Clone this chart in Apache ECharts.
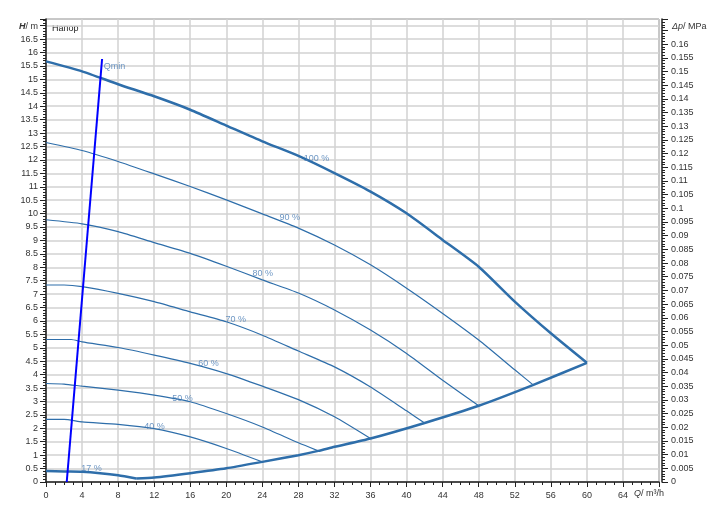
<!DOCTYPE html>
<html>
<head>
<meta charset="utf-8">
<script src="https://cdn.jsdelivr.net/npm/echarts@6/dist/echarts.min.js"></script>
<style>
html,body{margin:0;padding:0;background:#fff;}
#chart{width:723px;height:524px;}
</style>
</head>
<body>
<div id="chart"></div>
<script>
// ---- data (Q in m³/h, H in m) ----
const curve100 = [[0,15.67],[4,15.30],[8,14.82],[12,14.37],[16,13.87],[20,13.28],[24,12.69],[28,12.15],[32,11.51],[36,10.82],[40,10.01],[44,9.02],[48,8.02],[52,6.72],[56,5.54],[60,4.44]];
const curve90 = [[0,12.65],[4,12.35],[8,11.94],[12,11.48],[16,11.01],[20,10.51],[24,9.99],[28,9.46],[32,8.83],[36,8.09],[40,7.22],[44,6.28],[48,5.29],[52,4.18],[54.07,3.61]];
const curve80 = [[0,9.77],[4,9.62],[8,9.33],[12,8.92],[16,8.52],[20,8.04],[24,7.53],[28,7.04],[32,6.41],[36,5.66],[40,4.79],[44,3.79],[48,2.84]];
const curve70 = [[0,7.34],[2,7.34],[4,7.28],[8,7.03],[12,6.72],[16,6.34],[20,5.97],[24,5.47],[28,4.88],[32,4.29],[36,3.54],[40,2.65],[42,2.20]];
const curve60 = [[0,5.31],[2.8,5.31],[4,5.22],[8,5.01],[12,4.73],[16,4.42],[20,4.04],[24,3.57],[28,3.07],[32,2.43],[36,1.62]];
const curve50 = [[0,3.67],[2,3.65],[4,3.57],[8,3.42],[12,3.24],[16,2.99],[20,2.55],[24,2.05],[28,1.46],[30.2,1.16]];
const curve40 = [[0,2.33],[2,2.33],[4,2.24],[8,2.15],[12,1.99],[16,1.68],[20,1.25],[24,0.75]];
const curve17 = [[0,0.41],[2,0.39],[4,0.38],[6,0.33],[8,0.25],[10,0.13]];
const systemCurve = [[10,0.13],[12,0.17],[16,0.33],[20,0.51],[24,0.75],[28,1.0],[30.2,1.16],[32,1.31],[36,1.62],[42,2.20],[48,2.84],[54,3.61],[60,4.44]];
const qminLine = [[2.3,0],[6.22,15.76]];
const labelTexts = ['100 %','90 %','80 %','70 %','60 %','50 %','40 %','17 %','Qmin'];
const labelAnchors = [[28.6,12.04],[25.9,9.84],[22.9,7.78],[19.9,6.04],[16.9,4.42],[14.0,3.12],[10.9,2.08],[3.9,0.51],[6.4,15.47]];
const xTickMax = 68, xStep = 4;
const yTickMax = 17.25, yStep = 0.5;
const mPerMPa = 101.97, pStep = 0.005;

const lineColor = '#2e6eaa';
const labelColor = '#4a7db5';
const font = 'Liberation Sans, Arial, sans-serif';

function lineSeries(data, width, color) {
  return {
    type: 'line', data: data, showSymbol: false, symbol: 'none',
    smooth: 0.2,
    lineStyle: { color: color || lineColor, width: width },
    xAxisIndex: 0, yAxisIndex: 0, silent: true, z: 3
  };
}

const chart = echarts.init(document.getElementById('chart'), null, { renderer: 'canvas' });
const option = {
  animation: false,
  backgroundColor: '#fff',
  grid: { left: 46, right: 64, top: 19, bottom: 42, show: true, borderColor: '#555', borderWidth: 1, containLabel: false },
  xAxis: {
    type: 'value', min: 0, max: xTickMax, interval: xStep,
    axisLine: { show: true, onZero: false, lineStyle: { color: '#222', width: 1.5 } },
    axisTick: { show: true, length: 5, lineStyle: { color: '#222' } },
    minorTick: { show: true, splitNumber: 4, length: 3, lineStyle: { color: '#222' } },
    splitLine: { show: true, lineStyle: { color: '#d2d2d2', width: 1.5 } },
    axisLabel: { fontSize: 9, fontFamily: font, color: '#333', margin: 9,
      formatter: v => (v >= xTickMax ? '' : String(v)) }
  },
  yAxis: [{
    type: 'value', min: 0, max: yTickMax, interval: yStep,
    axisLine: { show: true, onZero: false, lineStyle: { color: '#222', width: 1.5 } },
    axisTick: { show: true, length: 6, lineStyle: { color: '#222' } },
    minorTick: { show: true, splitNumber: 5, length: 3, lineStyle: { color: '#222' } },
    splitLine: { show: true, lineStyle: { color: '#d2d2d2', width: 1.5 } },
    axisLabel: { fontSize: 9, fontFamily: font, color: '#333', margin: 8,
      formatter: v => (v > 16.75 ? '' : String(v)) }
  }, {
    type: 'value', position: 'right', offset: 3, min: 0, max: yTickMax / mPerMPa, interval: pStep,
    alignTicks: false,
    axisLine: { show: true, onZero: false, lineStyle: { color: '#222', width: 1.5 } },
    axisTick: { show: true, length: 6, lineStyle: { color: '#222' } },
    minorTick: { show: true, splitNumber: 5, length: 3, lineStyle: { color: '#222' } },
    splitLine: { show: false },
    axisLabel: { fontSize: 9, fontFamily: font, color: '#333', margin: 9,
      formatter: v => (v > 0.1625 ? '' : String(+v.toFixed(3))) }
  }],
  series: [
    lineSeries(curve90, 1.2),
    lineSeries(curve80, 1.2),
    lineSeries(curve70, 1.2),
    lineSeries(curve60, 1.2),
    lineSeries(curve50, 1.2),
    lineSeries(curve40, 1.2),
    lineSeries(curve100, 2.5),
    lineSeries(curve17, 2.5),
    lineSeries(systemCurve, 2.5),
    Object.assign(lineSeries(qminLine, 2, '#0000ff'), { smooth: false, z: 4 }),
    {
      type: 'scatter', symbolSize: 0, silent: true, z: 6,
      data: labelAnchors.map((p, i) => ({ value: p, name: labelTexts[i] })),
      label: { show: true, position: 'right', distance: 0, formatter: p => p.name,
        fontSize: 9, fontFamily: font, color: labelColor }
    }
  ],
  graphic: [
    { type: 'text', left: 19, top: 22, style: { text: '{b|H}/ m', font: '9px ' + font, fill: '#333',
      rich: { b: { fontStyle: 'italic', fontWeight: 'bold', fontSize: 9, fontFamily: font, fill: '#333' } } } },
    { type: 'text', left: 672, top: 22, style: { text: '{i|Δp}/ MPa', font: '9px ' + font, fill: '#333',
      rich: { i: { fontStyle: 'italic', fontSize: 9, fontFamily: font, fill: '#333' } } } },
    { type: 'text', left: 634, top: 489, style: { text: '{i|Q}/ m³/h', font: '9px ' + font, fill: '#333',
      rich: { i: { fontStyle: 'italic', fontSize: 9, fontFamily: font, fill: '#333' } } } },
    { type: 'text', left: 52, top: 24, style: { text: 'Напор', font: '9px ' + font, fill: '#222' } }
  ]
};
chart.setOption(option);
</script>
</body>
</html>
